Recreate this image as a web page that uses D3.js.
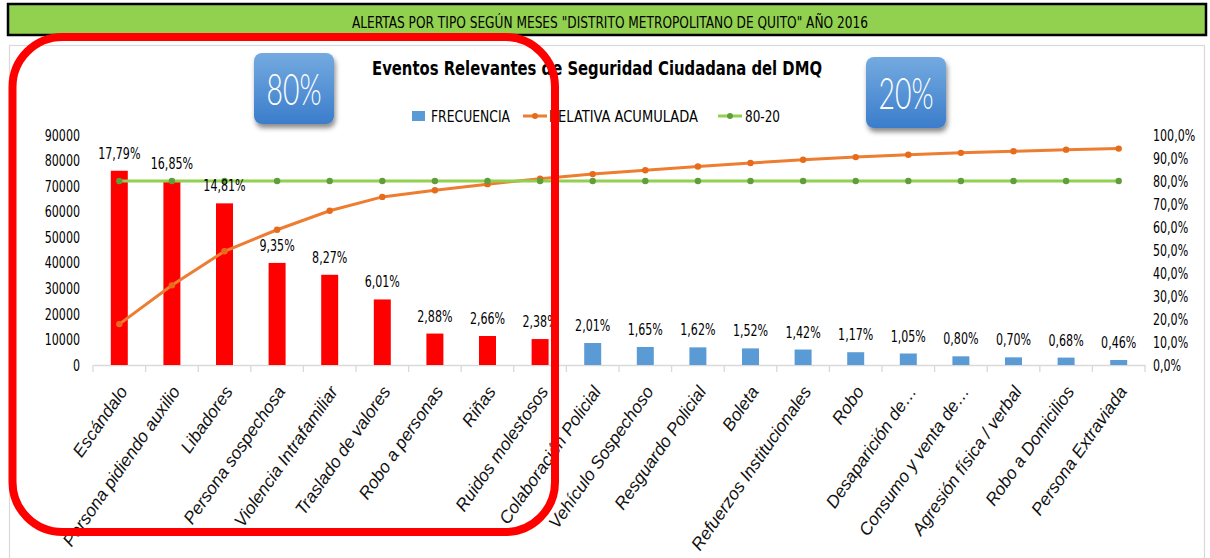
<!DOCTYPE html>
<html><head><meta charset="utf-8">
<script src="https://cdn.jsdelivr.net/npm/d3@7"></script>
<style>
html,body{margin:0;padding:0;background:#fff;}
svg{display:block;}
</style></head><body>
<svg id="chart" width="1210" height="558"></svg>
<script>
// ---------- data ----------
const categories = ["Escándalo","Persona pidiendo auxilio","Libadores","Persona sospechosa","Violencia Intrafamiliar","Traslado de valores","Robo a personas","Riñas","Ruidos molestosos","Colaboración Policial","Vehículo Sospechoso","Resguardo Policial","Boleta","Refuerzos Institucionales","Robo","Desaparición de…","Consumo y venta de…","Agresión física / verbal","Robo a Domicilios","Persona Extraviada"];
const frecuencia = [76000,71950,63250,39950,35300,25650,12300,11350,10150,8600,7050,6900,6500,6050,5000,4500,3400,3000,2900,1950];
const porcentaje = ["17,79%","16,85%","14,81%","9,35%","8,27%","6,01%","2,88%","2,66%","2,38%","2,01%","1,65%","1,62%","1,52%","1,42%","1,17%","1,05%","0,80%","0,70%","0,68%","0,46%"];
const acumulada = [0.1779,0.3464,0.4945,0.5880,0.6707,0.7308,0.7596,0.7862,0.8100,0.8301,0.8466,0.8628,0.8780,0.8922,0.9039,0.9144,0.9224,0.9294,0.9362,0.9408];
const linea8020 = [0.8,0.8,0.8,0.8,0.8,0.8,0.8,0.8,0.8,0.8,0.8,0.8,0.8,0.8,0.8,0.8,0.8,0.8,0.8,0.8];
const grupo = ["80%","80%","80%","80%","80%","80%","80%","80%","80%","20%","20%","20%","20%","20%","20%","20%","20%","20%","20%","20%"];
const leftTicks = [0,10000,20000,30000,40000,50000,60000,70000,80000,90000];
const rightTicks = [0,0.1,0.2,0.3,0.4,0.5,0.6,0.7,0.8,0.9,1.0];
const legendItems = ["FRECUENCIA","RELATIVA ACUMULADA","80-20"];
const headerText = "ALERTAS POR TIPO SEGÚN MESES \"DISTRITO METROPOLITANO DE QUITO\" AÑO 2016";
const titleText = "Eventos Relevantes de Seguridad Ciudadana del DMQ";

// ---------- setup ----------
const svg = d3.select("#chart");
const NARROW = "'Liberation Sans Narrow','DejaVu Sans Condensed','Liberation Sans',sans-serif";
const locale = d3.formatLocale({decimal:",",thousands:".",grouping:[3],currency:["$",""]});
const fmtPct = locale.format(".1%");
function squeeze(sel, f){
  sel.each(function(){
    const w = this.getComputedTextLength();
    d3.select(this).attr("textLength", w*f).attr("lengthAdjust","spacingAndGlyphs");
  });
}

const defs = svg.append("defs");
const grad = defs.append("linearGradient").attr("id","boxGrad").attr("x1",0).attr("y1",0).attr("x2",0).attr("y2",1);
grad.append("stop").attr("offset","0%").attr("stop-color","#74aae0");
grad.append("stop").attr("offset","100%").attr("stop-color","#3b7dcb");
const sh = defs.append("filter").attr("id","shadow").attr("x","-20%").attr("y","-20%").attr("width","150%").attr("height","160%");
sh.append("feDropShadow").attr("dx",1.5).attr("dy",4).attr("stdDeviation",2.5).attr("flood-color","#000").attr("flood-opacity",0.45);

svg.append("rect").attr("width",1210).attr("height",558).attr("fill","#fff");

// chart area border
svg.append("rect").attr("x",9.5).attr("y",45.5).attr("width",1195).attr("height",540)
  .attr("fill","#fff").attr("stroke","#d9d9d9").attr("stroke-width",1.2);

// header
svg.append("rect").attr("x",8).attr("y",4).attr("width",1198).attr("height",31)
  .attr("fill","#92d050").attr("stroke","#000").attr("stroke-width",2.5);
svg.append("text").attr("x",352).attr("y",28).attr("font-family",NARROW).attr("font-size",15)
  .attr("textLength",516).attr("lengthAdjust","spacingAndGlyphs").attr("fill","#000").text(headerText);

// scales
const x = d3.scaleBand().domain(categories).range([93,1145]).paddingInner(0.677).paddingOuter(0.3385);
const yL = d3.scaleLinear().domain([0,90000]).range([365,135]);
const yR = d3.scaleLinear().domain([0,1]).range([365,135]);
const color = d3.scaleOrdinal().domain(["80%","20%"]).range(["#ff0000","#5b9bd5"]);
const cx = c => x(c) + x.bandwidth()/2;

// title
svg.append("text").attr("x",372).attr("y",75).attr("font-family",NARROW).attr("font-weight","bold")
  .attr("font-size",19).attr("textLength",450).attr("lengthAdjust","spacingAndGlyphs").attr("fill","#000").text(titleText);

// legend
const lg = svg.append("g").attr("font-family",NARROW).attr("font-size",15).attr("fill","#000");
lg.append("rect").attr("x",412).attr("y",111).attr("width",13).attr("height",10).attr("fill","#5b9bd5");
lg.append("text").attr("x",431).attr("y",122).attr("textLength",79).attr("lengthAdjust","spacingAndGlyphs").text(legendItems[0]);
lg.append("line").attr("x1",523).attr("x2",547).attr("y1",116).attr("y2",116).attr("stroke","#ed7d31").attr("stroke-width",3);
lg.append("circle").attr("cx",535).attr("cy",116).attr("r",3).attr("fill","#e66c1c");
lg.append("text").attr("x",549).attr("y",122).attr("textLength",149).attr("lengthAdjust","spacingAndGlyphs").text(legendItems[1]);
lg.append("line").attr("x1",718).attr("x2",742).attr("y1",116).attr("y2",116).attr("stroke","#92d050").attr("stroke-width",3);
lg.append("circle").attr("cx",730).attr("cy",116).attr("r",3).attr("fill","#5f9e3b");
lg.append("text").attr("x",745).attr("y",122).attr("textLength",35).attr("lengthAdjust","spacingAndGlyphs").text(legendItems[2]);

// 80% / 20% boxes
const boxes = [{t:"80%",x:254,y:53},{t:"20%",x:866,y:57}];
boxes.forEach(b=>{
  svg.append("rect").attr("x",b.x).attr("y",b.y).attr("width",80).attr("height",71).attr("rx",8)
    .attr("fill","url(#boxGrad)").attr("filter","url(#shadow)");
  svg.append("text").attr("x",b.x+40-27.5).attr("y",b.y+52).attr("font-family","Lato,'Open Sans',sans-serif")
    .attr("font-weight",300).attr("font-size",43).attr("fill","#fff")
    .attr("textLength",55).attr("lengthAdjust","spacingAndGlyphs").text(b.t);
});

// left axis
const axL = svg.append("g").attr("transform","translate(93,0)")
  .call(d3.axisLeft(yL).tickValues(leftTicks).tickFormat(d3.format("d")).tickSize(0).tickPadding(13));
axL.select(".domain").remove();
axL.selectAll("text").attr("font-family",NARROW).attr("font-size",16).attr("fill","#000").call(squeeze,0.77);

// right axis
const axR = svg.append("g").attr("transform","translate(1145,0)")
  .call(d3.axisRight(yR).tickValues(rightTicks).tickFormat(fmtPct).tickSize(0).tickPadding(8));
axR.select(".domain").remove();
axR.selectAll("text").attr("font-family",NARROW).attr("font-size",16).attr("fill","#000").call(squeeze,0.77);

// x axis
const axX = svg.append("g").attr("transform","translate(0,365)")
  .call(d3.axisBottom(x).tickSize(0).tickPadding(0));
axX.select(".domain").attr("stroke","#d9d9d9").attr("stroke-width",1.3);
const bounds = categories.map(c => x(c) - x.step()*x.paddingInner()/2).concat([x.range()[1]]);
axX.selectAll(".bnd").data(bounds).join("line").attr("class","bnd")
  .attr("x1",d=>d).attr("x2",d=>d).attr("y1",0).attr("y2",7).attr("stroke","#d9d9d9").attr("stroke-width",1.3);
axX.selectAll(".tick text")
  .attr("x",0).attr("y",0).attr("dy","0.35em")
  .attr("text-anchor","end")
  .attr("transform","translate(4,23) rotate(-55)")
  .attr("font-family","'Liberation Sans',Arial,sans-serif").attr("font-style","italic").attr("font-size",17.5).attr("fill","#111");

// bars
svg.append("g").selectAll("rect").data(frecuencia).join("rect")
  .attr("x",(d,i)=>x(categories[i])).attr("width",x.bandwidth())
  .attr("y",d=>yL(d)).attr("height",d=>yL(0)-yL(d))
  .attr("fill",(d,i)=>color(grupo[i]));

// cumulative line
const line = d3.line().x((d,i)=>cx(categories[i])).y(d=>yR(d));
svg.append("path").datum(acumulada).attr("d",line).attr("fill","none").attr("stroke","#ed7d31").attr("stroke-width",3);
svg.append("g").selectAll("circle").data(acumulada).join("circle")
  .attr("cx",(d,i)=>cx(categories[i])).attr("cy",d=>yR(d)).attr("r",3.2).attr("fill","#e66c1c");

// 80-20 line
svg.append("path").datum(linea8020).attr("d",line).attr("fill","none").attr("stroke","#92d050").attr("stroke-width",3);
svg.append("g").selectAll("circle").data(linea8020).join("circle")
  .attr("cx",(d,i)=>cx(categories[i])).attr("cy",d=>yR(d)).attr("r",3.2).attr("fill","#5f9e3b");

// data labels
svg.append("g").selectAll("text").data(porcentaje).join("text")
  .attr("x",(d,i)=>cx(categories[i])).attr("y",(d,i)=>yL(frecuencia[i])-12)
  .attr("text-anchor","middle").attr("font-family",NARROW).attr("font-size",16).attr("fill","#000")
  .text(d=>d).call(squeeze,0.77);

// red highlight box
svg.append("rect").attr("x",12.5).attr("y",37).attr("width",542.5).attr("height",495).attr("rx",50)
  .attr("fill","none").attr("stroke","#ff0000").attr("stroke-width",8);
</script>
</body></html>
